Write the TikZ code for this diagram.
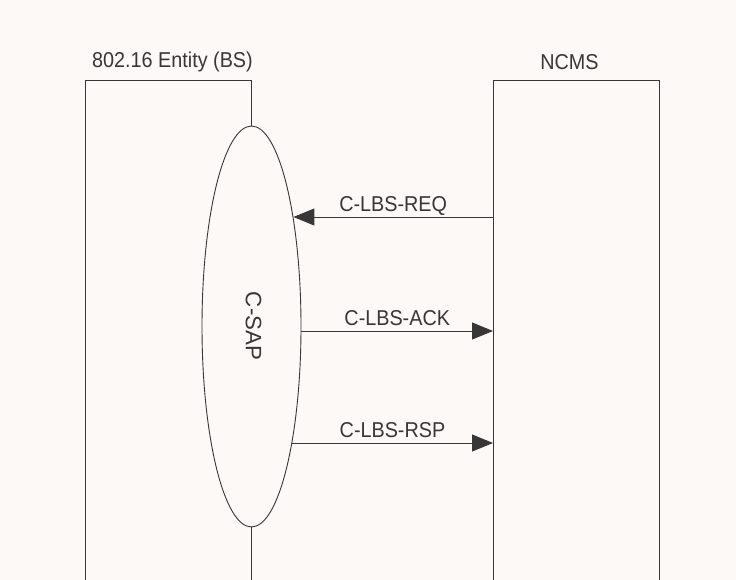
\documentclass[tikz,border=0pt]{standalone}
\usepackage{fontspec}
\setmainfont{Liberation Sans}[FakeStretch=0.92]
\newfontfamily\sapfont{Liberation Sans}
\usetikzlibrary{shapes.geometric,arrows.meta}
\definecolor{paper}{RGB}{252,249,247}
\definecolor{ink}{RGB}{55,55,55}

\begin{document}
\begin{tikzpicture}[x=1pt,y=-1pt]
                \tikzstyle{every node}+=[inner sep=0pt, text=ink, font=\fontsize{21.5}{24}\selectfont]
                \tikzstyle{life}=[draw=ink, line width=0.9pt]
                \tikzstyle{msg}=[draw=ink, line width=0.9pt, -{Triangle[length=21pt,width=17pt]}]
                \tikzstyle{msglabel}=[midway, anchor=base, yshift=5.3pt]
                \fill [paper] (0,0) rectangle (736,580);
                \useasboundingbox (0,0) rectangle (736,580);
                % entities
                \node (bs) at (172.5,62) {802.16 Entity (BS)};
                \node (ncms) at (569.5,62) {NCMS};
                \node [ellipse, draw=ink, line width=0.9pt, minimum width=99, minimum height=401] (csap) at (251.5,326.5) {};
                \node [rotate=-90, font=\sapfont\fontsize{22.3}{24}\selectfont] (csaptxt) at (253.5,326) {C-SAP};
                \coordinate (bsL) at (85,580);
                \coordinate (bsR) at (251.5,580);
                \coordinate (ncmsL) at (493,580);
                \coordinate (ncmsR) at (659,580);
                \draw [life] (bsL) -- (85,80.5) -- (251.5,80.5) -- (csap.north);
                \draw [life] (csap.south) -- (bsR);
                \draw [life] (ncmsL) -- (493,80.5) -- (659,80.5) -- (ncmsR);
                % messages
                \coordinate (req) at (493,217);
                \coordinate (ack) at (493,331);
                \coordinate (rsp) at (493,443);
                \draw [msg] (req) -- (req -| csap.69) node [msglabel] {C-LBS-REQ};
                \draw [msg] (ack -| csap.east) -- (ack) node [msglabel] {C-LBS-ACK};
                \draw [msg] (rsp -| csap.-71) -- (rsp) node [msglabel] {C-LBS-RSP};
\end{tikzpicture}
\end{document}
